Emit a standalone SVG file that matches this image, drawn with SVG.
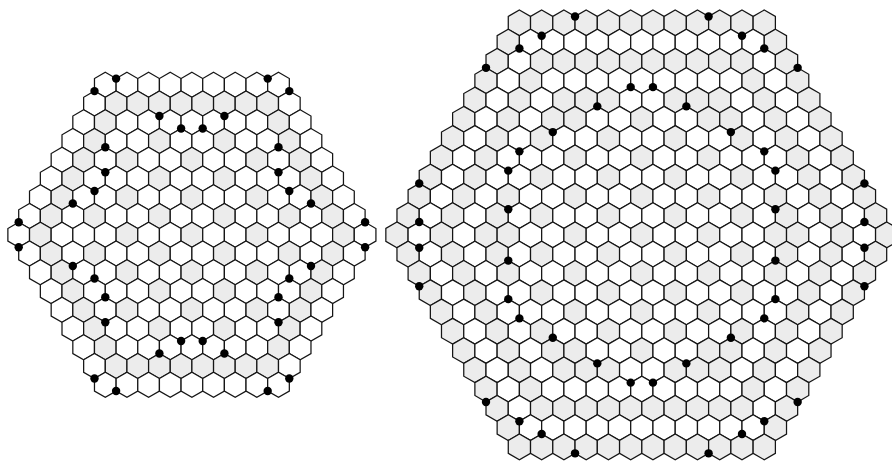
<svg xmlns="http://www.w3.org/2000/svg" width="892" height="462" viewBox="0 0 892 462">
<style>
#p{stroke:#151515;stroke-width:1.25;stroke-linejoin:miter}
.dot{fill:#000}
</style>
<defs>
<polygon id="p" points="0,-.6667 1,-.3333 1,.3333 0,.6667 -1,.3333 -1,-.3333" vector-effect="non-scaling-stroke"/>
<use id="G" href="#p" fill="#ececec"/>
<use id="W" href="#p" fill="#ffffff"/>
</defs>
<rect width="892" height="462" fill="#fff"/>
<g id="gridL" transform="translate(105.3,84.8) scale(10.825,18.75)">
<use href="#W" x="0" y="0"/><use href="#W" x="2" y="0"/><use href="#W" x="4" y="0"/><use href="#W" x="6" y="0"/><use href="#W" x="8" y="0"/><use href="#W" x="10" y="0"/><use href="#W" x="12" y="0"/><use href="#W" x="14" y="0"/><use href="#W" x="16" y="0"/>
<use href="#W" x="-1" y="1"/><use href="#G" x="1" y="1"/><use href="#G" x="3" y="1"/><use href="#G" x="5" y="1"/><use href="#G" x="7" y="1"/><use href="#G" x="9" y="1"/><use href="#G" x="11" y="1"/><use href="#G" x="13" y="1"/><use href="#G" x="15" y="1"/><use href="#W" x="17" y="1"/>
<use href="#W" x="-2" y="2"/><use href="#G" x="0" y="2"/><use href="#W" x="2" y="2"/><use href="#W" x="4" y="2"/><use href="#W" x="6" y="2"/><use href="#W" x="8" y="2"/><use href="#W" x="10" y="2"/><use href="#W" x="12" y="2"/><use href="#W" x="14" y="2"/><use href="#G" x="16" y="2"/><use href="#W" x="18" y="2"/>
<use href="#W" x="-3" y="3"/><use href="#G" x="-1" y="3"/><use href="#W" x="1" y="3"/><use href="#W" x="3" y="3"/><use href="#G" x="5" y="3"/><use href="#W" x="7" y="3"/><use href="#W" x="9" y="3"/><use href="#G" x="11" y="3"/><use href="#W" x="13" y="3"/><use href="#W" x="15" y="3"/><use href="#G" x="17" y="3"/><use href="#W" x="19" y="3"/>
<use href="#W" x="-4" y="4"/><use href="#G" x="-2" y="4"/><use href="#W" x="0" y="4"/><use href="#G" x="2" y="4"/><use href="#W" x="4" y="4"/><use href="#W" x="6" y="4"/><use href="#G" x="8" y="4"/><use href="#W" x="10" y="4"/><use href="#W" x="12" y="4"/><use href="#G" x="14" y="4"/><use href="#W" x="16" y="4"/><use href="#G" x="18" y="4"/><use href="#W" x="20" y="4"/>
<use href="#W" x="-5" y="5"/><use href="#G" x="-3" y="5"/><use href="#W" x="-1" y="5"/><use href="#W" x="1" y="5"/><use href="#W" x="3" y="5"/><use href="#G" x="5" y="5"/><use href="#W" x="7" y="5"/><use href="#W" x="9" y="5"/><use href="#G" x="11" y="5"/><use href="#W" x="13" y="5"/><use href="#W" x="15" y="5"/><use href="#W" x="17" y="5"/><use href="#G" x="19" y="5"/><use href="#W" x="21" y="5"/>
<use href="#W" x="-6" y="6"/><use href="#G" x="-4" y="6"/><use href="#W" x="-2" y="6"/><use href="#W" x="0" y="6"/><use href="#G" x="2" y="6"/><use href="#W" x="4" y="6"/><use href="#W" x="6" y="6"/><use href="#G" x="8" y="6"/><use href="#W" x="10" y="6"/><use href="#W" x="12" y="6"/><use href="#G" x="14" y="6"/><use href="#W" x="16" y="6"/><use href="#W" x="18" y="6"/><use href="#G" x="20" y="6"/><use href="#W" x="22" y="6"/>
<use href="#W" x="-7" y="7"/><use href="#G" x="-5" y="7"/><use href="#W" x="-3" y="7"/><use href="#G" x="-1" y="7"/><use href="#W" x="1" y="7"/><use href="#W" x="3" y="7"/><use href="#G" x="5" y="7"/><use href="#W" x="7" y="7"/><use href="#W" x="9" y="7"/><use href="#G" x="11" y="7"/><use href="#W" x="13" y="7"/><use href="#W" x="15" y="7"/><use href="#G" x="17" y="7"/><use href="#W" x="19" y="7"/><use href="#G" x="21" y="7"/><use href="#W" x="23" y="7"/>
<use href="#W" x="-8" y="8"/><use href="#G" x="-6" y="8"/><use href="#W" x="-4" y="8"/><use href="#W" x="-2" y="8"/><use href="#W" x="0" y="8"/><use href="#G" x="2" y="8"/><use href="#W" x="4" y="8"/><use href="#W" x="6" y="8"/><use href="#G" x="8" y="8"/><use href="#W" x="10" y="8"/><use href="#W" x="12" y="8"/><use href="#G" x="14" y="8"/><use href="#W" x="16" y="8"/><use href="#W" x="18" y="8"/><use href="#W" x="20" y="8"/><use href="#G" x="22" y="8"/><use href="#W" x="24" y="8"/>
<use href="#W" x="-7" y="9"/><use href="#G" x="-5" y="9"/><use href="#W" x="-3" y="9"/><use href="#G" x="-1" y="9"/><use href="#W" x="1" y="9"/><use href="#W" x="3" y="9"/><use href="#G" x="5" y="9"/><use href="#W" x="7" y="9"/><use href="#W" x="9" y="9"/><use href="#G" x="11" y="9"/><use href="#W" x="13" y="9"/><use href="#W" x="15" y="9"/><use href="#G" x="17" y="9"/><use href="#W" x="19" y="9"/><use href="#G" x="21" y="9"/><use href="#W" x="23" y="9"/>
<use href="#W" x="-6" y="10"/><use href="#G" x="-4" y="10"/><use href="#W" x="-2" y="10"/><use href="#W" x="0" y="10"/><use href="#G" x="2" y="10"/><use href="#W" x="4" y="10"/><use href="#W" x="6" y="10"/><use href="#G" x="8" y="10"/><use href="#W" x="10" y="10"/><use href="#W" x="12" y="10"/><use href="#G" x="14" y="10"/><use href="#W" x="16" y="10"/><use href="#W" x="18" y="10"/><use href="#G" x="20" y="10"/><use href="#W" x="22" y="10"/>
<use href="#W" x="-5" y="11"/><use href="#G" x="-3" y="11"/><use href="#W" x="-1" y="11"/><use href="#W" x="1" y="11"/><use href="#W" x="3" y="11"/><use href="#G" x="5" y="11"/><use href="#W" x="7" y="11"/><use href="#W" x="9" y="11"/><use href="#G" x="11" y="11"/><use href="#W" x="13" y="11"/><use href="#W" x="15" y="11"/><use href="#W" x="17" y="11"/><use href="#G" x="19" y="11"/><use href="#W" x="21" y="11"/>
<use href="#W" x="-4" y="12"/><use href="#G" x="-2" y="12"/><use href="#W" x="0" y="12"/><use href="#G" x="2" y="12"/><use href="#W" x="4" y="12"/><use href="#W" x="6" y="12"/><use href="#G" x="8" y="12"/><use href="#W" x="10" y="12"/><use href="#W" x="12" y="12"/><use href="#G" x="14" y="12"/><use href="#W" x="16" y="12"/><use href="#G" x="18" y="12"/><use href="#W" x="20" y="12"/>
<use href="#W" x="-3" y="13"/><use href="#G" x="-1" y="13"/><use href="#W" x="1" y="13"/><use href="#W" x="3" y="13"/><use href="#G" x="5" y="13"/><use href="#W" x="7" y="13"/><use href="#W" x="9" y="13"/><use href="#G" x="11" y="13"/><use href="#W" x="13" y="13"/><use href="#W" x="15" y="13"/><use href="#G" x="17" y="13"/><use href="#W" x="19" y="13"/>
<use href="#W" x="-2" y="14"/><use href="#G" x="0" y="14"/><use href="#W" x="2" y="14"/><use href="#W" x="4" y="14"/><use href="#W" x="6" y="14"/><use href="#W" x="8" y="14"/><use href="#W" x="10" y="14"/><use href="#W" x="12" y="14"/><use href="#W" x="14" y="14"/><use href="#G" x="16" y="14"/><use href="#W" x="18" y="14"/>
<use href="#W" x="-1" y="15"/><use href="#G" x="1" y="15"/><use href="#G" x="3" y="15"/><use href="#G" x="5" y="15"/><use href="#G" x="7" y="15"/><use href="#G" x="9" y="15"/><use href="#G" x="11" y="15"/><use href="#G" x="13" y="15"/><use href="#G" x="15" y="15"/><use href="#W" x="17" y="15"/>
<use href="#W" x="0" y="16"/><use href="#W" x="2" y="16"/><use href="#W" x="4" y="16"/><use href="#W" x="6" y="16"/><use href="#W" x="8" y="16"/><use href="#W" x="10" y="16"/><use href="#W" x="12" y="16"/><use href="#W" x="14" y="16"/><use href="#W" x="16" y="16"/>
</g>
<g id="gridR" transform="translate(519.4,22.85) scale(11.13,19.275)">
<use href="#G" x="0" y="0"/><use href="#G" x="2" y="0"/><use href="#G" x="4" y="0"/><use href="#G" x="6" y="0"/><use href="#G" x="8" y="0"/><use href="#G" x="10" y="0"/><use href="#G" x="12" y="0"/><use href="#G" x="14" y="0"/><use href="#G" x="16" y="0"/><use href="#G" x="18" y="0"/><use href="#G" x="20" y="0"/><use href="#G" x="22" y="0"/>
<use href="#G" x="-1" y="1"/><use href="#W" x="1" y="1"/><use href="#W" x="3" y="1"/><use href="#W" x="5" y="1"/><use href="#W" x="7" y="1"/><use href="#W" x="9" y="1"/><use href="#W" x="11" y="1"/><use href="#W" x="13" y="1"/><use href="#W" x="15" y="1"/><use href="#W" x="17" y="1"/><use href="#W" x="19" y="1"/><use href="#W" x="21" y="1"/><use href="#G" x="23" y="1"/>
<use href="#G" x="-2" y="2"/><use href="#W" x="0" y="2"/><use href="#G" x="2" y="2"/><use href="#G" x="4" y="2"/><use href="#G" x="6" y="2"/><use href="#G" x="8" y="2"/><use href="#G" x="10" y="2"/><use href="#G" x="12" y="2"/><use href="#G" x="14" y="2"/><use href="#G" x="16" y="2"/><use href="#G" x="18" y="2"/><use href="#G" x="20" y="2"/><use href="#W" x="22" y="2"/><use href="#G" x="24" y="2"/>
<use href="#G" x="-3" y="3"/><use href="#W" x="-1" y="3"/><use href="#G" x="1" y="3"/><use href="#W" x="3" y="3"/><use href="#W" x="5" y="3"/><use href="#W" x="7" y="3"/><use href="#W" x="9" y="3"/><use href="#W" x="11" y="3"/><use href="#W" x="13" y="3"/><use href="#W" x="15" y="3"/><use href="#W" x="17" y="3"/><use href="#W" x="19" y="3"/><use href="#G" x="21" y="3"/><use href="#W" x="23" y="3"/><use href="#G" x="25" y="3"/>
<use href="#G" x="-4" y="4"/><use href="#W" x="-2" y="4"/><use href="#G" x="0" y="4"/><use href="#W" x="2" y="4"/><use href="#G" x="4" y="4"/><use href="#G" x="6" y="4"/><use href="#G" x="8" y="4"/><use href="#W" x="10" y="4"/><use href="#W" x="12" y="4"/><use href="#G" x="14" y="4"/><use href="#G" x="16" y="4"/><use href="#G" x="18" y="4"/><use href="#W" x="20" y="4"/><use href="#G" x="22" y="4"/><use href="#W" x="24" y="4"/><use href="#G" x="26" y="4"/>
<use href="#G" x="-5" y="5"/><use href="#W" x="-3" y="5"/><use href="#G" x="-1" y="5"/><use href="#W" x="1" y="5"/><use href="#G" x="3" y="5"/><use href="#G" x="5" y="5"/><use href="#W" x="7" y="5"/><use href="#W" x="9" y="5"/><use href="#G" x="11" y="5"/><use href="#W" x="13" y="5"/><use href="#W" x="15" y="5"/><use href="#G" x="17" y="5"/><use href="#G" x="19" y="5"/><use href="#W" x="21" y="5"/><use href="#G" x="23" y="5"/><use href="#W" x="25" y="5"/><use href="#G" x="27" y="5"/>
<use href="#G" x="-6" y="6"/><use href="#W" x="-4" y="6"/><use href="#G" x="-2" y="6"/><use href="#W" x="0" y="6"/><use href="#G" x="2" y="6"/><use href="#W" x="4" y="6"/><use href="#W" x="6" y="6"/><use href="#G" x="8" y="6"/><use href="#W" x="10" y="6"/><use href="#W" x="12" y="6"/><use href="#G" x="14" y="6"/><use href="#W" x="16" y="6"/><use href="#W" x="18" y="6"/><use href="#G" x="20" y="6"/><use href="#W" x="22" y="6"/><use href="#G" x="24" y="6"/><use href="#W" x="26" y="6"/><use href="#G" x="28" y="6"/>
<use href="#G" x="-7" y="7"/><use href="#W" x="-5" y="7"/><use href="#G" x="-3" y="7"/><use href="#W" x="-1" y="7"/><use href="#W" x="1" y="7"/><use href="#W" x="3" y="7"/><use href="#G" x="5" y="7"/><use href="#W" x="7" y="7"/><use href="#W" x="9" y="7"/><use href="#G" x="11" y="7"/><use href="#W" x="13" y="7"/><use href="#W" x="15" y="7"/><use href="#G" x="17" y="7"/><use href="#W" x="19" y="7"/><use href="#W" x="21" y="7"/><use href="#W" x="23" y="7"/><use href="#G" x="25" y="7"/><use href="#W" x="27" y="7"/><use href="#G" x="29" y="7"/>
<use href="#G" x="-8" y="8"/><use href="#W" x="-6" y="8"/><use href="#G" x="-4" y="8"/><use href="#W" x="-2" y="8"/><use href="#W" x="0" y="8"/><use href="#G" x="2" y="8"/><use href="#W" x="4" y="8"/><use href="#W" x="6" y="8"/><use href="#G" x="8" y="8"/><use href="#W" x="10" y="8"/><use href="#W" x="12" y="8"/><use href="#G" x="14" y="8"/><use href="#W" x="16" y="8"/><use href="#W" x="18" y="8"/><use href="#G" x="20" y="8"/><use href="#W" x="22" y="8"/><use href="#W" x="24" y="8"/><use href="#G" x="26" y="8"/><use href="#W" x="28" y="8"/><use href="#G" x="30" y="8"/>
<use href="#G" x="-9" y="9"/><use href="#W" x="-7" y="9"/><use href="#G" x="-5" y="9"/><use href="#W" x="-3" y="9"/><use href="#G" x="-1" y="9"/><use href="#W" x="1" y="9"/><use href="#W" x="3" y="9"/><use href="#G" x="5" y="9"/><use href="#W" x="7" y="9"/><use href="#W" x="9" y="9"/><use href="#G" x="11" y="9"/><use href="#W" x="13" y="9"/><use href="#W" x="15" y="9"/><use href="#G" x="17" y="9"/><use href="#W" x="19" y="9"/><use href="#W" x="21" y="9"/><use href="#G" x="23" y="9"/><use href="#W" x="25" y="9"/><use href="#G" x="27" y="9"/><use href="#W" x="29" y="9"/><use href="#G" x="31" y="9"/>
<use href="#G" x="-10" y="10"/><use href="#W" x="-8" y="10"/><use href="#G" x="-6" y="10"/><use href="#W" x="-4" y="10"/><use href="#G" x="-2" y="10"/><use href="#W" x="0" y="10"/><use href="#G" x="2" y="10"/><use href="#W" x="4" y="10"/><use href="#W" x="6" y="10"/><use href="#G" x="8" y="10"/><use href="#W" x="10" y="10"/><use href="#W" x="12" y="10"/><use href="#G" x="14" y="10"/><use href="#W" x="16" y="10"/><use href="#W" x="18" y="10"/><use href="#G" x="20" y="10"/><use href="#W" x="22" y="10"/><use href="#G" x="24" y="10"/><use href="#W" x="26" y="10"/><use href="#G" x="28" y="10"/><use href="#W" x="30" y="10"/><use href="#G" x="32" y="10"/>
<use href="#G" x="-11" y="11"/><use href="#W" x="-9" y="11"/><use href="#G" x="-7" y="11"/><use href="#W" x="-5" y="11"/><use href="#G" x="-3" y="11"/><use href="#G" x="-1" y="11"/><use href="#W" x="1" y="11"/><use href="#W" x="3" y="11"/><use href="#G" x="5" y="11"/><use href="#W" x="7" y="11"/><use href="#W" x="9" y="11"/><use href="#G" x="11" y="11"/><use href="#W" x="13" y="11"/><use href="#W" x="15" y="11"/><use href="#G" x="17" y="11"/><use href="#W" x="19" y="11"/><use href="#W" x="21" y="11"/><use href="#G" x="23" y="11"/><use href="#G" x="25" y="11"/><use href="#W" x="27" y="11"/><use href="#G" x="29" y="11"/><use href="#W" x="31" y="11"/><use href="#G" x="33" y="11"/>
<use href="#G" x="-10" y="12"/><use href="#W" x="-8" y="12"/><use href="#G" x="-6" y="12"/><use href="#W" x="-4" y="12"/><use href="#G" x="-2" y="12"/><use href="#W" x="0" y="12"/><use href="#G" x="2" y="12"/><use href="#W" x="4" y="12"/><use href="#W" x="6" y="12"/><use href="#G" x="8" y="12"/><use href="#W" x="10" y="12"/><use href="#W" x="12" y="12"/><use href="#G" x="14" y="12"/><use href="#W" x="16" y="12"/><use href="#W" x="18" y="12"/><use href="#G" x="20" y="12"/><use href="#W" x="22" y="12"/><use href="#G" x="24" y="12"/><use href="#W" x="26" y="12"/><use href="#G" x="28" y="12"/><use href="#W" x="30" y="12"/><use href="#G" x="32" y="12"/>
<use href="#G" x="-9" y="13"/><use href="#W" x="-7" y="13"/><use href="#G" x="-5" y="13"/><use href="#W" x="-3" y="13"/><use href="#G" x="-1" y="13"/><use href="#W" x="1" y="13"/><use href="#W" x="3" y="13"/><use href="#G" x="5" y="13"/><use href="#W" x="7" y="13"/><use href="#W" x="9" y="13"/><use href="#G" x="11" y="13"/><use href="#W" x="13" y="13"/><use href="#W" x="15" y="13"/><use href="#G" x="17" y="13"/><use href="#W" x="19" y="13"/><use href="#W" x="21" y="13"/><use href="#G" x="23" y="13"/><use href="#W" x="25" y="13"/><use href="#G" x="27" y="13"/><use href="#W" x="29" y="13"/><use href="#G" x="31" y="13"/>
<use href="#G" x="-8" y="14"/><use href="#W" x="-6" y="14"/><use href="#G" x="-4" y="14"/><use href="#W" x="-2" y="14"/><use href="#W" x="0" y="14"/><use href="#G" x="2" y="14"/><use href="#W" x="4" y="14"/><use href="#W" x="6" y="14"/><use href="#G" x="8" y="14"/><use href="#W" x="10" y="14"/><use href="#W" x="12" y="14"/><use href="#G" x="14" y="14"/><use href="#W" x="16" y="14"/><use href="#W" x="18" y="14"/><use href="#G" x="20" y="14"/><use href="#W" x="22" y="14"/><use href="#W" x="24" y="14"/><use href="#G" x="26" y="14"/><use href="#W" x="28" y="14"/><use href="#G" x="30" y="14"/>
<use href="#G" x="-7" y="15"/><use href="#W" x="-5" y="15"/><use href="#G" x="-3" y="15"/><use href="#W" x="-1" y="15"/><use href="#W" x="1" y="15"/><use href="#W" x="3" y="15"/><use href="#G" x="5" y="15"/><use href="#W" x="7" y="15"/><use href="#W" x="9" y="15"/><use href="#G" x="11" y="15"/><use href="#W" x="13" y="15"/><use href="#W" x="15" y="15"/><use href="#G" x="17" y="15"/><use href="#W" x="19" y="15"/><use href="#W" x="21" y="15"/><use href="#W" x="23" y="15"/><use href="#G" x="25" y="15"/><use href="#W" x="27" y="15"/><use href="#G" x="29" y="15"/>
<use href="#G" x="-6" y="16"/><use href="#W" x="-4" y="16"/><use href="#G" x="-2" y="16"/><use href="#W" x="0" y="16"/><use href="#G" x="2" y="16"/><use href="#W" x="4" y="16"/><use href="#W" x="6" y="16"/><use href="#G" x="8" y="16"/><use href="#W" x="10" y="16"/><use href="#W" x="12" y="16"/><use href="#G" x="14" y="16"/><use href="#W" x="16" y="16"/><use href="#W" x="18" y="16"/><use href="#G" x="20" y="16"/><use href="#W" x="22" y="16"/><use href="#G" x="24" y="16"/><use href="#W" x="26" y="16"/><use href="#G" x="28" y="16"/>
<use href="#G" x="-5" y="17"/><use href="#W" x="-3" y="17"/><use href="#G" x="-1" y="17"/><use href="#W" x="1" y="17"/><use href="#G" x="3" y="17"/><use href="#G" x="5" y="17"/><use href="#W" x="7" y="17"/><use href="#W" x="9" y="17"/><use href="#G" x="11" y="17"/><use href="#W" x="13" y="17"/><use href="#W" x="15" y="17"/><use href="#G" x="17" y="17"/><use href="#G" x="19" y="17"/><use href="#W" x="21" y="17"/><use href="#G" x="23" y="17"/><use href="#W" x="25" y="17"/><use href="#G" x="27" y="17"/>
<use href="#G" x="-4" y="18"/><use href="#W" x="-2" y="18"/><use href="#G" x="0" y="18"/><use href="#W" x="2" y="18"/><use href="#G" x="4" y="18"/><use href="#G" x="6" y="18"/><use href="#G" x="8" y="18"/><use href="#W" x="10" y="18"/><use href="#W" x="12" y="18"/><use href="#G" x="14" y="18"/><use href="#G" x="16" y="18"/><use href="#G" x="18" y="18"/><use href="#W" x="20" y="18"/><use href="#G" x="22" y="18"/><use href="#W" x="24" y="18"/><use href="#G" x="26" y="18"/>
<use href="#G" x="-3" y="19"/><use href="#W" x="-1" y="19"/><use href="#G" x="1" y="19"/><use href="#W" x="3" y="19"/><use href="#W" x="5" y="19"/><use href="#W" x="7" y="19"/><use href="#W" x="9" y="19"/><use href="#W" x="11" y="19"/><use href="#W" x="13" y="19"/><use href="#W" x="15" y="19"/><use href="#W" x="17" y="19"/><use href="#W" x="19" y="19"/><use href="#G" x="21" y="19"/><use href="#W" x="23" y="19"/><use href="#G" x="25" y="19"/>
<use href="#G" x="-2" y="20"/><use href="#W" x="0" y="20"/><use href="#G" x="2" y="20"/><use href="#G" x="4" y="20"/><use href="#G" x="6" y="20"/><use href="#G" x="8" y="20"/><use href="#G" x="10" y="20"/><use href="#G" x="12" y="20"/><use href="#G" x="14" y="20"/><use href="#G" x="16" y="20"/><use href="#G" x="18" y="20"/><use href="#G" x="20" y="20"/><use href="#W" x="22" y="20"/><use href="#G" x="24" y="20"/>
<use href="#G" x="-1" y="21"/><use href="#W" x="1" y="21"/><use href="#W" x="3" y="21"/><use href="#W" x="5" y="21"/><use href="#W" x="7" y="21"/><use href="#W" x="9" y="21"/><use href="#W" x="11" y="21"/><use href="#W" x="13" y="21"/><use href="#W" x="15" y="21"/><use href="#W" x="17" y="21"/><use href="#W" x="19" y="21"/><use href="#W" x="21" y="21"/><use href="#G" x="23" y="21"/>
<use href="#G" x="0" y="22"/><use href="#G" x="2" y="22"/><use href="#G" x="4" y="22"/><use href="#G" x="6" y="22"/><use href="#G" x="8" y="22"/><use href="#G" x="10" y="22"/><use href="#G" x="12" y="22"/><use href="#G" x="14" y="22"/><use href="#G" x="16" y="22"/><use href="#G" x="18" y="22"/><use href="#G" x="20" y="22"/><use href="#G" x="22" y="22"/>
</g>
<g id="dotsL" class="dot">
<circle cx="116.1" cy="78.6" r="4.2"/><circle cx="94.5" cy="91.1" r="4.2"/><circle cx="159.4" cy="116.05" r="4.2"/><circle cx="181.1" cy="128.55" r="4.2"/><circle cx="202.7" cy="128.55" r="4.2"/><circle cx="224.4" cy="116.05" r="4.2"/><circle cx="267.7" cy="78.6" r="4.2"/><circle cx="289.3" cy="91.1" r="4.2"/>
<circle cx="105.3" cy="147.3" r="4.2"/><circle cx="105.3" cy="172.3" r="4.2"/><circle cx="94.5" cy="191.05" r="4.2"/><circle cx="72.8" cy="203.55" r="4.2"/><circle cx="278.5" cy="147.3" r="4.2"/><circle cx="278.5" cy="172.3" r="4.2"/><circle cx="289.3" cy="191.05" r="4.2"/><circle cx="311" cy="203.55" r="4.2"/>
<circle cx="18.7" cy="222.3" r="4.2"/><circle cx="18.7" cy="247.3" r="4.2"/><circle cx="365.1" cy="222.3" r="4.2"/><circle cx="365.1" cy="247.3" r="4.2"/>
<circle cx="72.8" cy="266.05" r="4.2"/><circle cx="94.5" cy="278.55" r="4.2"/><circle cx="105.3" cy="297.3" r="4.2"/><circle cx="105.3" cy="322.3" r="4.2"/><circle cx="311" cy="266.05" r="4.2"/><circle cx="289.3" cy="278.55" r="4.2"/><circle cx="278.5" cy="297.3" r="4.2"/><circle cx="278.5" cy="322.3" r="4.2"/>
<circle cx="181.1" cy="341.05" r="4.2"/><circle cx="159.4" cy="353.55" r="4.2"/><circle cx="202.7" cy="341.05" r="4.2"/><circle cx="224.4" cy="353.55" r="4.2"/><circle cx="94.5" cy="378.55" r="4.2"/><circle cx="116.1" cy="391.05" r="4.2"/><circle cx="289.3" cy="378.55" r="4.2"/><circle cx="267.7" cy="391.05" r="4.2"/>
</g>
<g id="dotsR" class="dot">
<circle cx="575.05" cy="16.43" r="4.2"/><circle cx="708.61" cy="16.43" r="4.2"/><circle cx="541.66" cy="35.7" r="4.2"/><circle cx="742" cy="35.7" r="4.2"/><circle cx="519.4" cy="48.55" r="4.2"/><circle cx="764.26" cy="48.55" r="4.2"/><circle cx="486.01" cy="67.83" r="4.2"/><circle cx="797.65" cy="67.83" r="4.2"/>
<circle cx="630.7" cy="87.1" r="4.2"/><circle cx="652.96" cy="87.1" r="4.2"/><circle cx="597.31" cy="106.38" r="4.2"/><circle cx="686.35" cy="106.38" r="4.2"/><circle cx="552.79" cy="132.08" r="4.2"/><circle cx="730.87" cy="132.08" r="4.2"/><circle cx="519.4" cy="151.35" r="4.2"/><circle cx="764.26" cy="151.35" r="4.2"/>
<circle cx="508.27" cy="170.63" r="4.2"/><circle cx="775.39" cy="170.63" r="4.2"/><circle cx="419.23" cy="183.48" r="4.2"/><circle cx="864.43" cy="183.48" r="4.2"/><circle cx="508.27" cy="209.18" r="4.2"/><circle cx="775.39" cy="209.18" r="4.2"/><circle cx="419.23" cy="222.03" r="4.2"/><circle cx="864.43" cy="222.03" r="4.2"/>
<circle cx="419.23" cy="247.73" r="4.2"/><circle cx="864.43" cy="247.73" r="4.2"/><circle cx="508.27" cy="260.58" r="4.2"/><circle cx="775.39" cy="260.58" r="4.2"/><circle cx="419.23" cy="286.28" r="4.2"/><circle cx="864.43" cy="286.28" r="4.2"/><circle cx="508.27" cy="299.13" r="4.2"/><circle cx="775.39" cy="299.13" r="4.2"/>
<circle cx="519.4" cy="318.4" r="4.2"/><circle cx="764.26" cy="318.4" r="4.2"/><circle cx="552.79" cy="337.68" r="4.2"/><circle cx="730.87" cy="337.68" r="4.2"/><circle cx="597.31" cy="363.38" r="4.2"/><circle cx="686.35" cy="363.38" r="4.2"/><circle cx="630.7" cy="382.65" r="4.2"/><circle cx="652.96" cy="382.65" r="4.2"/>
<circle cx="486.01" cy="401.93" r="4.2"/><circle cx="797.65" cy="401.93" r="4.2"/><circle cx="519.4" cy="421.2" r="4.2"/><circle cx="764.26" cy="421.2" r="4.2"/><circle cx="541.66" cy="434.05" r="4.2"/><circle cx="742" cy="434.05" r="4.2"/><circle cx="575.05" cy="453.33" r="4.2"/><circle cx="708.61" cy="453.33" r="4.2"/>
</g>
</svg>
